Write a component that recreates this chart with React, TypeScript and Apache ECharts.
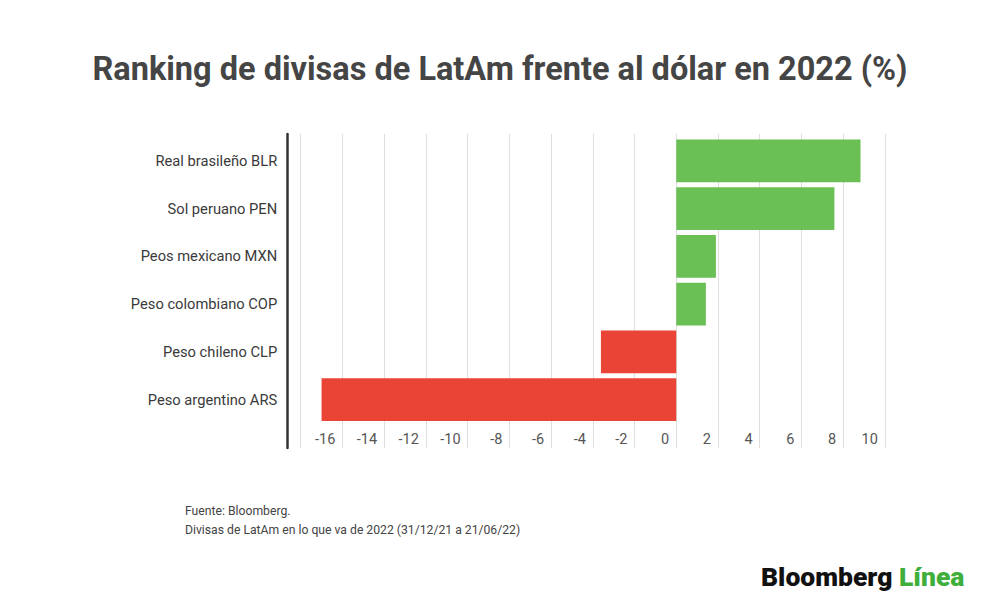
import React, { useEffect, useRef } from "react";
import * as echarts from "echarts";

const categories = [
  "Real brasileño BLR",
  "Sol peruano PEN",
  "Peos mexicano MXN",
  "Peso colombiano COP",
  "Peso chileno CLP",
  "Peso argentino ARS",
];
const values = [8.83, 7.58, 1.9, 1.42, -3.61, -17.0];
const axisMin = -18;
const axisMax = 10;
const axisStep = 2;

const titleText = "Ranking de divisas de LatAm frente al dólar en 2022 (%)";
const sourceLines = [
  "Fuente: Bloomberg.",
  "Divisas de LatAm en lo que va de 2022 (31/12/21 a 21/06/22)",
];

const GREEN = "#6abf55";
const RED = "#ea4437";
const FONT = "Roboto, 'Noto Sans', sans-serif";

export default function App() {
  const ref = useRef<HTMLDivElement>(null);

  useEffect(() => {
    if (!ref.current) return;
    const chart = echarts.init(ref.current, null, { renderer: "svg" });
    const gridLeft = 300.7;
    const gridWidth = 584.2;
    chart.setOption({
      animation: false,
      backgroundColor: "#ffffff",
      textStyle: { fontFamily: FONT },
      title: {
        text: titleText,
        left: "center",
        top: 47,
        textStyle: {
          fontFamily: FONT,
          fontSize: 32.5,
          fontWeight: "bold",
          color: "#454545",
        },
      },
      grid: [
        { left: gridLeft, top: 137, width: gridWidth, height: 286.5 },
        { left: gridLeft, top: 134, width: gridWidth, height: 314 },
      ],
      xAxis: [
        {
          type: "value",
          gridIndex: 0,
          min: axisMin,
          max: axisMax,
          interval: axisStep,
          axisLine: { show: false },
          axisTick: { show: false },
          splitLine: { show: false },
          axisLabel: {
            showMinLabel: false,
            align: "right",
            padding: [0, 7, 0, 0],
            margin: 8,
            fontSize: 14.5,
            color: "#555555",
            fontFamily: FONT,
          },
        },
        {
          type: "value",
          gridIndex: 1,
          min: axisMin,
          max: axisMax,
          interval: axisStep,
          axisLine: { show: false },
          axisTick: { show: false },
          axisLabel: { show: false },
          splitLine: { show: true, lineStyle: { color: "#dedede", width: 1 } },
        },
      ],
      yAxis: [
        {
          type: "category",
          gridIndex: 0,
          data: categories,
          inverse: true,
          axisLine: { show: false, onZero: false },
          axisTick: { show: false },
          splitLine: { show: false },
          axisLabel: {
            margin: 23.5,
            fontSize: 14.7,
            color: "#3a3a3a",
            fontFamily: FONT,
          },
        },
        {
          type: "value",
          gridIndex: 1,
          min: 0,
          max: 1,
          offset: 13,
          axisLine: {
            show: true,
            onZero: false,
            lineStyle: { color: "#333333", width: 2.5 },
          },
          axisTick: { show: false },
          axisLabel: { show: false },
          splitLine: { show: false },
        },
      ],
      series: [
        {
          type: "bar",
          xAxisIndex: 0,
          yAxisIndex: 0,
          barCategoryGap: "10.6%",
          data: values.map((v) => ({
            value: v,
            itemStyle: { color: v >= 0 ? GREEN : RED },
          })),
          label: { show: false },
        },
      ],
      graphic: [
        {
          type: "text",
          left: 185,
          top: 501,
          style: {
            text: sourceLines.join("\n"),
            fontSize: 12.2,
            lineHeight: 19,
            fill: "#444444",
            fontFamily: FONT,
          },
        },
        {
          type: "text",
          left: 761,
          top: 563,
          style: {
            text: "{b|Bloomberg} {g|Línea}",
            rich: {
              b: {
                fontSize: 26.5,
                fontWeight: 900,
                fill: "#111111",
                color: "#111111",
                fontFamily: FONT,
              },
              g: {
                fontSize: 26.5,
                fontWeight: 900,
                fill: "#3fae3a",
                color: "#3fae3a",
                fontFamily: FONT,
              },
            },
            fontSize: 26.5,
            fontWeight: 900,
            fontFamily: FONT,
          },
        },
      ],
    });
    return () => chart.dispose();
  }, []);

  return (
    <div
      ref={ref}
      style={{ position: "fixed", left: 0, top: 0, width: 1000, height: 611 }}
    />
  );
}
